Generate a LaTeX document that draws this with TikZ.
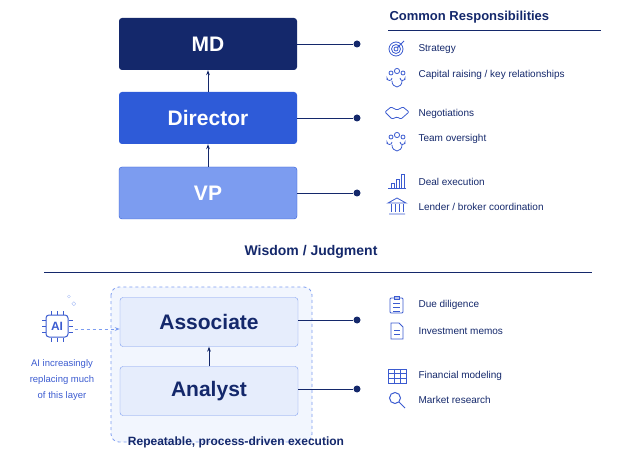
\documentclass[tikz,border=0pt]{standalone}
\usepackage{fontspec}
\setmainfont{Liberation Sans}
\usetikzlibrary{arrows.meta, positioning, calc}
\definecolor{navy}{HTML}{14286B}
\definecolor{midblue}{HTML}{2E5BD8}
\definecolor{lightblue}{HTML}{7C9CF0}
\definecolor{paleblue}{HTML}{E6EDFC}
\definecolor{iconblue}{HTML}{3B5BD0}

\begin{document}
\begin{tikzpicture}[x=1pt, y=-1pt,
  role/.style={rectangle, rounded corners=3pt, minimum width=178pt, minimum height=52pt, font=\fontsize{21}{24}\selectfont\bfseries},
  lowrole/.style={role, minimum height=49pt, draw=lightblue, fill=paleblue, text=navy},
  item/.style={anchor=west, font=\fontsize{10}{12}\selectfont, text=navy},
  dot/.style={circle, fill=navy, inner sep=0pt, minimum size=7pt},
  link/.style={navy, line width=0.9pt},
  uparrow/.style={-{Stealth[length=5pt]}, navy, line width=1pt},
  icon/.style={iconblue, line width=0.8pt}
]
  \useasboundingbox (0,0) rectangle (626,462);

  % upper roles
  \node[role, fill=navy, text=white] (md) at (208,44) {MD};
  \node[role, fill=midblue, text=white] (director) at (208,118) {Director};
  \node[role, fill=lightblue, draw=midblue, text=white] (vp) at (208,193) {VP};
  \draw[uparrow] (director) -- (md);
  \draw[uparrow] (vp) -- (director);

  \node[dot] (mddot) at (357,44) {};
  \node[dot] (dirdot) at (357,118) {};
  \node[dot] (vpdot) at (357,193) {};
  \draw[link] (md.east) -- (mddot);
  \draw[link] (director.east) -- (dirdot);
  \draw[link] (vp.east) -- (vpdot);

  % responsibilities
  \node[anchor=west, font=\fontsize{13}{15}\selectfont\bfseries, text=navy] (title) at (386,17) {Common Responsibilities};
  \draw[navy, line width=0.6pt] (388,30) -- (601,30);

  \node[item] (strategy) at (415,49) {Strategy};
  \node[item] (capital) at (415,75) {Capital raising / key relationships};
  \node[item] (nego) at (415,114) {Negotiations};
  \node[item] (team) at (415,139) {Team oversight};
  \node[item] (deal) at (415,182) {Deal execution};
  \node[item] (lender) at (415,207) {Lender / broker coordination};

  % icons
  \foreach \r in {7,4.5,2} \draw[icon] (396,49) circle (\r);
  \draw[icon, -{Stealth[length=3pt]}] (404,41) -- (397,48);
  \foreach \y in {75,139} {
    \draw[icon] (397,\y-4) circle (2.6) (391,\y-2) circle (2) (403,\y-2) circle (2);
    \draw[icon] (392,\y+6) arc (180:360:5 and -6) (387,\y+5) -- (387,\y+3) arc (180:360:2.5 and -2.5) (405,\y+5) -- (405,\y+3) arc (0:-180:2.5 and -2.5);
  }
  \draw[icon, rounded corners=1pt] (385,112) -- (391,107) -- (397,110) -- (403,107) -- (409,112) -- (401,119) -- (397,117) -- (392,119) -- cycle;
  \draw[icon] (391,183) rectangle (394,188) (396,179) rectangle (399,188) (401,174) rectangle (404,188) (388,188) -- (406,188);
  \draw[icon] (388,203) -- (397,198) -- (406,203) -- cycle (389,214) -- (405,214);
  \foreach \x in {391,395,399,403} \draw[icon] (\x,204) -- (\x,212);

  % divider
  \node[font=\fontsize{14}{16}\selectfont\bfseries, text=navy] (wisdom) at (311,252) {Wisdom / Judgment};
  \draw[navy, line width=0.6pt] (44,272) -- (592,272);

  % lower roles
  \draw[lightblue, dashed, line width=0.8pt, fill=paleblue!50, rounded corners=8pt] (111,287) rectangle (312,442);
  \node[lowrole] (associate) at (209,322) {Associate};
  \node[lowrole] (analyst) at (209,391) {Analyst};
  \draw[uparrow] (analyst) -- (associate);

  \node[dot] (assocdot) at (357,320) {};
  \node[dot] (analdot) at (357,389) {};
  \draw[link] (associate.east |- assocdot) -- (assocdot);
  \draw[link] (analyst.east |- analdot) -- (analdot);

  \node[item] (due) at (415,305) {Due diligence};
  \node[item] (memo) at (415,331) {Investment memos};
  \node[item] (model) at (415,376) {Financial modeling};
  \node[item] (market) at (415,400) {Market research};

  \draw[icon, rounded corners=1pt] (390,298) rectangle (403,313);
  \draw[icon] (394,296) rectangle (399,299);
  \foreach \y in {303,307,311} \draw[icon] (393,\y) -- (400,\y);
  \draw[icon] (391,323) -- (399,323) -- (403,327) -- (403,339) -- (391,339) -- cycle;
  \foreach \y in {330,334} \draw[icon] (394,\y) -- (400,\y);
  \draw[icon] (388,369) rectangle (406,383);
  \foreach \y in {373.5,378} \draw[icon] (388,\y) -- (406,\y);
  \foreach \x in {394,400} \draw[icon] (\x,369) -- (\x,383);
  \draw[icon, line width=1pt] (395,398) circle (5.5) (399,402) -- (405,408);

  % AI chip
  \node[draw=iconblue, line width=1pt, rounded corners=3pt, minimum size=22pt, inner sep=0pt, font=\fontsize{12}{14}\selectfont\bfseries, text=iconblue] (ai) at (57,326) {AI};
  \foreach \d in {-6,0,6} {
    \draw[icon] ($(ai.north)+(\d,0)$) -- ++(0,-4);
    \draw[icon] ($(ai.south)+(\d,0)$) -- ++(0,4);
    \draw[icon] ($(ai.west)+(0,\d)$) -- ++(-4,0);
    \draw[icon] ($(ai.east)+(0,\d)$) -- ++(4,0);
  }
  \node[text=lightblue, font=\fontsize{9}{9}\selectfont] (star1) at (74,304) {$\diamond$};
  \node[text=lightblue, font=\fontsize{6}{6}\selectfont] (star2) at (69,297) {$\diamond$};
  \draw[-{Stealth[length=5pt]}, dashed, lightblue, line width=0.9pt] ($(ai.east)+(6,3)$) coordinate (aiout) -- (associate.west |- aiout);
  \node[align=center, font=\fontsize{9.5}{16}\selectfont, text=iconblue] (ainote) at (62,380) {AI increasingly\\replacing much\\of this layer};

  \node[font=\fontsize{12}{14}\selectfont\bfseries, text=navy] (repeat) at (236,442) {Repeatable, process-driven execution};
\end{tikzpicture}
\end{document}
